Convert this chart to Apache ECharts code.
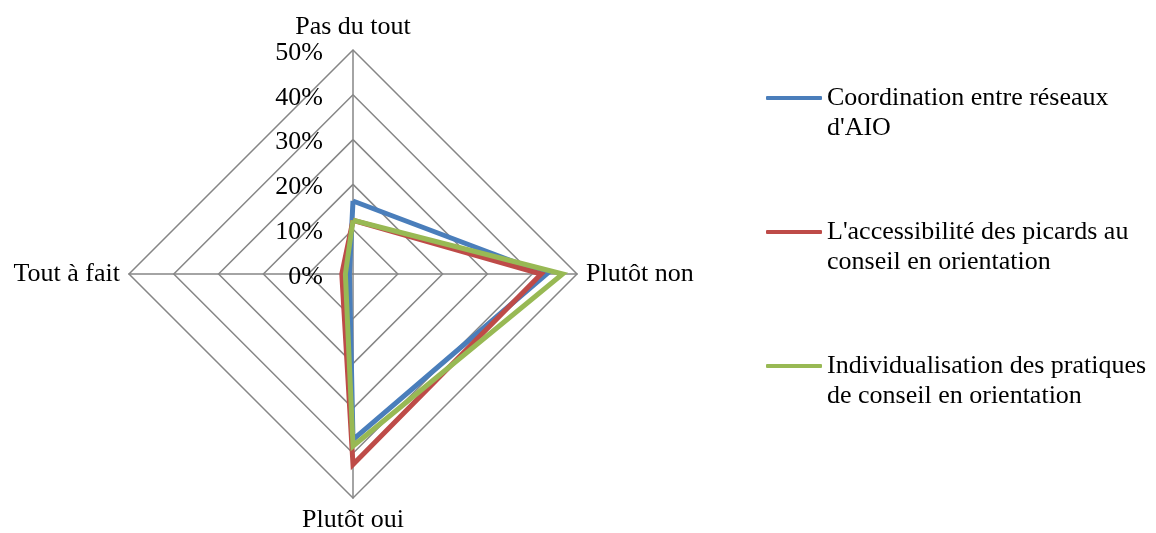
<!DOCTYPE html>
<html>
<head>
<meta charset="utf-8">
<script src="https://cdn.jsdelivr.net/npm/echarts@6/dist/echarts.min.js"></script>
<style>
html,body{margin:0;padding:0;background:#fff;}
#chart{width:1156px;height:533px;}
</style>
</head>
<body>
<div id="chart"></div>
<script>
// Categories in clockwise order starting at top
var categories = ['Pas du tout', 'Plutôt non', 'Plutôt oui', 'Tout à fait'];
var tickValues = [0, 10, 20, 30, 40, 50];
var seriesNames = [
  "Coordination entre réseaux d'AIO",
  "L'accessibilité des picards au conseil en orientation",
  "Individualisation des pratiques de conseil en orientation"
];
var legendLines = [
  ["Coordination entre réseaux", "d'AIO"],
  ["L'accessibilité des picards au", "conseil en orientation"],
  ["Individualisation des pratiques", "de conseil en orientation"]
];
var coordination = [16.3, 43.2, 37.0, 0.8];
var accessibilite = [12.0, 42.0, 42.5, 2.5];
var individualisation = [12.0, 46.8, 38.4, 1.7];
var colors = ['#4a7ebb', '#be4b48', '#98b954'];

// ECharts lays radar indicators counter-clockwise from the top;
// reorder so they appear clockwise: top, right, bottom, left.
var order = [0, 3, 2, 1];
function reorder(arr){ return order.map(function(i){ return arr[i]; }); }

var FONT = 'Liberation Serif';
var FS = 26;
var maxV = tickValues[tickValues.length - 1];
var indicators = reorder(categories).map(function(n, k){
  var ind = { name: n, min: tickValues[0], max: maxV };
  if (k === 0) ind.axisLabel = { show: true };
  return ind;
});

var seriesData = [coordination, accessibilite, individualisation];

var chart = echarts.init(document.getElementById('chart'), null, {renderer: 'canvas'});
chart.setOption({
  animation: false,
  backgroundColor: '#ffffff',
  color: colors,
  legend: {
    orient: 'vertical',
    left: 766,
    top: 53,
    padding: 0,
    itemWidth: 56,
    itemHeight: 4,
    itemGap: 44,
    icon: 'roundRect',
    data: seriesNames,
    textStyle: { fontFamily: FONT, fontSize: FS, color: '#000', lineHeight: 30 },
    formatter: function(name){
      var i = seriesNames.indexOf(name);
      return '\n' + legendLines[i].join('\n');
    }
  },
  radar: {
    center: [353, 274],
    radius: 224,
    shape: 'polygon',
    splitNumber: tickValues.length - 1,
    startAngle: 90,
    nameGap: 9,
    axisName: { color: '#000', fontFamily: FONT, fontSize: FS },
    splitArea: { show: false },
    splitLine: { lineStyle: { color: '#868686', width: 1.5 } },
    axisLine: { lineStyle: { color: '#868686', width: 1.5 } },
    axisTick: { show: false },
    axisLabel: {
      show: false,
      margin: 30,
      color: '#000',
      fontFamily: FONT,
      fontSize: FS,
      formatter: function(v){ return '{a|' + v + '%}'; },
      rich: {
        a: { fontFamily: FONT, fontSize: FS, color: '#000', padding: [6, 0, 0, 0] }
      }
    },
    indicator: indicators
  },
  series: [{
    type: 'radar',
    symbol: 'none',
    data: seriesData.map(function(arr, i){
      return {
        name: seriesNames[i],
        value: reorder(arr),
        lineStyle: { color: colors[i], width: 5, join: 'miter', miterLimit: 3 },
        itemStyle: { color: colors[i] }
      };
    })
  }]
});
</script>
</body>
</html>
